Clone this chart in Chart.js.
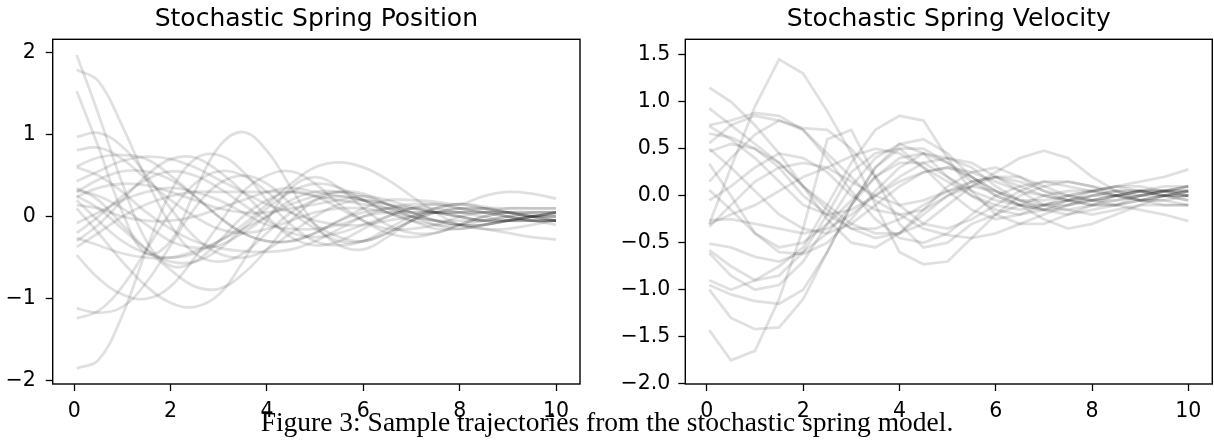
<!DOCTYPE html>
<html>
<head>
<meta charset="utf-8">
<script src="https://cdn.jsdelivr.net/npm/chart.js@4.4.1/dist/chart.umd.min.js"></script>
<style>
  html, body { margin: 0; padding: 0; background: #fff; }
  body { width: 1214px; height: 443px; position: relative; overflow: hidden; }
  .panel { position: absolute; top: 0; height: 420px; }
  #posBox { left: 0; width: 600px; }
  #velBox { left: 620px; width: 594px; }
  .title {
    position: absolute; top: 3px; height: 30px; text-align: center; white-space: nowrap;
    font: 25px/30px 'DejaVu Sans', sans-serif; color: #000;
  }
  #posTitle { left: 52.7px; width: 527.3px; }
  #velTitle { left: 685.3px; width: 527px; }
  .caption {
    position: absolute; left: 0; top: 408px; width: 1214px;
    text-align: center; font: 27.5px/1 'Liberation Serif', 'Times New Roman', serif; color: #000;
  }
</style>
</head>
<body>
<div class="panel" id="posBox"><canvas id="posChart"></canvas></div>
<div class="panel" id="velBox"><canvas id="velChart"></canvas></div>
<div class="title" id="posTitle">Stochastic Spring Position</div>
<div class="title" id="velTitle">Stochastic Spring Velocity</div>
<div class="caption">Figure 3: Sample trajectories from the stochastic spring model.</div>
<script>
// sample times (shared by every trajectory)
const times = [0.05, 0.5, 1, 1.5, 2, 2.5, 3, 3.5, 4, 4.5, 5, 5.5, 6, 6.5, 7, 7.5, 8, 8.5, 9, 9.5, 10];

const xTicks = [0, 2, 4, 6, 8, 10];
const posTicks = [-2, -1, 0, 1, 2];
const velTicks = [-2.0, -1.5, -1.0, -0.5, 0.0, 0.5, 1.0, 1.5];

// position trajectories
const positionPaths = [
    [1.53, 0.85, 0.05, -0.45, -0.3, 0.3, 0.85, 1.03, 0.8, 0.35, -0.1, -0.35, -0.4, -0.25, -0.05, 0.1, 0.15, 0.1, 0.0, -0.05, -0.05],
    [1.97, 1.25, 0.4, -0.3, -0.6, -0.55, -0.3, 0.0, 0.2, 0.3, 0.25, 0.1, -0.05, -0.15, -0.15, -0.1, 0.0, 0.05, 0.05, 0.02, 0.0],
    [1.79, 1.65, 1.1, 0.45, -0.1, -0.45, -0.55, -0.45, -0.2, 0.05, 0.2, 0.25, 0.2, 0.05, -0.05, -0.1, -0.1, -0.05, 0.0, 0.05, 0.05],
    [0.97, 1.02, 0.85, 0.5, 0.1, -0.25, -0.45, -0.5, -0.4, -0.2, 0.0, 0.15, 0.2, 0.15, 0.05, -0.05, -0.1, -0.1, -0.05, 0.0, 0.02],
    [0.81, 0.84, 0.7, 0.45, 0.2, 0.0, -0.15, -0.2, -0.15, -0.05, 0.05, 0.1, 0.1, 0.05, 0.0, -0.05, -0.05, -0.05, 0.0, 0.0, 0.0],
    [0.61, 0.72, 0.75, 0.7, 0.5, 0.25, 0.0, -0.2, -0.3, -0.3, -0.2, -0.05, 0.05, 0.1, 0.1, 0.05, 0.0, -0.05, -0.05, -0.05, -0.05],
    [0.43, 0.55, 0.68, 0.73, 0.7, 0.6, 0.45, 0.3, 0.15, 0.05, -0.05, -0.1, -0.1, -0.05, 0.0, 0.05, 0.05, 0.05, 0.05, 0.0, 0.0],
    [0.32, 0.25, 0.1, -0.1, -0.3, -0.38, -0.35, -0.2, 0.0, 0.2, 0.3, 0.3, 0.2, 0.1, 0.0, -0.05, -0.1, -0.1, -0.05, 0.0, 0.05],
    [0.24, 0.35, 0.4, 0.38, 0.3, 0.2, 0.1, 0.05, 0.05, 0.1, 0.15, 0.2, 0.25, 0.2, 0.12, 0.05, 0.0, -0.05, -0.05, 0.0, 0.05],
    [0.25, 0.1, -0.15, -0.4, -0.55, -0.55, -0.4, -0.15, 0.1, 0.3, 0.4, 0.35, 0.2, 0.05, -0.05, -0.15, -0.15, -0.1, -0.05, 0.0, 0.05],
    [0.14, 0.1, 0.0, -0.05, -0.05, 0.0, 0.1, 0.2, 0.3, 0.35, 0.3, 0.25, 0.2, 0.15, 0.1, 0.05, 0.05, 0.05, 0.1, 0.1, 0.1],
    [-0.08, 0.05, 0.2, 0.3, 0.35, 0.3, 0.2, 0.05, -0.1, -0.15, -0.15, -0.1, 0.0, 0.05, 0.05, 0.05, 0.0, -0.05, -0.05, -0.05, -0.05],
    [-0.2, 0.0, 0.25, 0.45, 0.55, 0.5, 0.35, 0.15, -0.05, -0.2, -0.25, -0.2, -0.1, 0.0, 0.1, 0.15, 0.1, 0.05, 0.0, -0.05, -0.05],
    [-0.3, -0.1, 0.2, 0.5, 0.7, 0.72, 0.55, 0.3, 0.0, -0.25, -0.35, -0.3, -0.15, 0.0, 0.1, 0.1, 0.05, 0.0, -0.05, -0.05, -0.05],
    [-0.37, -0.2, 0.0, 0.15, 0.25, 0.3, 0.3, 0.3, 0.3, 0.3, 0.25, 0.2, 0.15, 0.1, 0.05, 0.05, 0.05, 0.1, 0.1, 0.1, 0.1],
    [-0.47, -0.75, -0.95, -1.0, -0.85, -0.5, -0.1, 0.3, 0.5, 0.55, 0.4, 0.15, -0.05, -0.2, -0.25, -0.2, -0.1, 0.0, 0.05, 0.05, 0.05],
    [0.1, -0.2, -0.55, -0.85, -1.05, -1.1, -0.95, -0.55, -0.05, 0.35, 0.48, 0.35, 0.1, -0.1, -0.2, -0.2, -0.1, 0.0, 0.05, 0.05, 0.05],
    [0.35, 0.2, -0.1, -0.4, -0.65, -0.85, -0.88, -0.7, -0.4, -0.05, 0.2, 0.3, 0.28, 0.15, 0.0, -0.1, -0.15, -0.1, -0.05, 0.0, 0.05],
    [-1.12, -1.17, -1.1, -0.8, -0.35, 0.1, 0.4, 0.5, 0.4, 0.15, -0.1, -0.25, -0.3, -0.2, -0.05, 0.05, 0.1, 0.1, 0.05, 0.0, -0.05],
    [-1.24, -1.15, -0.85, -0.4, 0.05, 0.4, 0.55, 0.5, 0.3, 0.05, -0.15, -0.3, -0.3, -0.2, -0.05, 0.05, 0.1, 0.1, 0.05, 0.0, -0.05],
    [-1.85, -1.75, -1.2, -0.4, 0.3, 0.7, 0.75, 0.55, 0.2, -0.1, -0.3, -0.35, -0.3, -0.15, 0.0, 0.1, 0.15, 0.12, 0.05, 0.0, -0.05],
    [0.2, -0.05, -0.3, -0.45, -0.5, -0.45, -0.3, -0.1, 0.15, 0.4, 0.6, 0.66, 0.6, 0.45, 0.25, 0.05, -0.1, -0.15, -0.15, -0.1, -0.05],
    [0.6, 0.5, 0.3, 0.05, -0.15, -0.3, -0.38, -0.42, -0.43, -0.4, -0.3, -0.15, 0.0, 0.1, 0.15, 0.15, 0.1, 0.05, 0.0, -0.05, -0.1],
    [-0.26, -0.35, -0.45, -0.5, -0.5, -0.42, -0.3, -0.15, 0.0, 0.15, 0.25, 0.3, 0.25, 0.15, 0.05, -0.05, -0.1, -0.15, -0.2, -0.25, -0.28],
    [0.3, 0.45, 0.55, 0.55, 0.45, 0.25, 0.0, -0.2, -0.3, -0.3, -0.2, -0.05, 0.1, 0.2, 0.2, 0.18, 0.15, 0.25, 0.3, 0.28, 0.22]
];

// velocity trajectories
const velocityPaths = [
    [-0.3, 0.3, 0.95, 1.45, 1.3, 0.9, 0.45, -0.1, -0.6, -0.73, -0.7, -0.45, -0.2, 0.0, 0.1, 0.15, 0.1, 0.0, -0.05, -0.05, -0.1],
    [-1.43, -1.75, -1.65, -1.1, -0.35, 0.6, 0.7, 0.2, -0.3, -0.55, -0.5, -0.3, -0.2, -0.1, 0.0, 0.05, 0.05, 0.0, -0.05, 0.0, 0.05],
    [-1.0, -1.3, -1.42, -1.4, -1.1, -0.6, -0.1, 0.3, 0.5, 0.5, 0.35, 0.15, 0.0, -0.1, -0.15, -0.1, -0.05, 0.0, 0.0, 0.05, 0.05],
    [1.15, 1.0, 0.75, 0.45, 0.1, -0.25, -0.5, -0.55, -0.4, -0.15, 0.1, 0.25, 0.3, 0.2, 0.05, -0.05, -0.1, -0.1, -0.05, 0.0, 0.05],
    [0.93, 0.75, 0.55, 0.35, 0.1, -0.1, -0.3, -0.4, -0.4, -0.3, -0.1, 0.1, 0.2, 0.2, 0.1, 0.0, -0.05, -0.1, -0.05, 0.0, 0.0],
    [0.75, 0.8, 0.88, 0.85, 0.7, 0.4, 0.05, -0.25, -0.45, -0.5, -0.4, -0.2, 0.0, 0.1, 0.15, 0.1, 0.05, 0.0, -0.05, -0.05, 0.0],
    [0.56, 0.75, 0.85, 0.8, 0.72, 0.7, 0.5, 0.2, -0.1, -0.3, -0.35, -0.25, -0.1, 0.05, 0.15, 0.15, 0.1, 0.05, 0.0, 0.0, 0.0],
    [0.66, 0.62, 0.5, 0.3, 0.0, -0.2, -0.35, -0.35, -0.25, -0.1, 0.05, 0.15, 0.2, 0.15, 0.05, 0.0, -0.05, -0.05, 0.0, 0.05, 0.1],
    [0.34, 0.0, -0.4, -0.55, -0.5, -0.3, -0.05, 0.2, 0.35, 0.35, 0.2, 0.05, -0.05, -0.1, -0.1, -0.05, 0.0, 0.05, 0.05, 0.0, 0.0],
    [0.06, -0.15, -0.4, -0.6, -0.62, -0.5, -0.25, 0.05, 0.3, 0.45, 0.4, 0.3, 0.1, -0.05, -0.15, -0.2, -0.15, -0.1, 0.0, 0.05, 0.1],
    [-0.26, -0.25, -0.3, -0.35, -0.4, -0.35, -0.2, 0.0, 0.2, 0.35, 0.4, 0.35, 0.2, 0.05, -0.1, -0.15, -0.2, -0.15, -0.1, 0.0, 0.05],
    [-0.51, -0.55, -0.65, -0.7, -0.6, -0.4, -0.1, 0.2, 0.4, 0.45, 0.35, 0.2, 0.05, -0.05, -0.1, -0.1, -0.05, 0.0, 0.05, 0.05, 0.1],
    [-0.58, -0.75, -0.9, -0.85, -0.6, -0.2, 0.25, 0.45, 0.5, 0.3, 0.05, -0.15, -0.25, -0.2, -0.1, 0.0, 0.05, 0.1, 0.05, 0.0, -0.05],
    [-0.61, -0.85, -1.0, -0.95, -0.7, -0.3, 0.1, 0.4, 0.55, 0.45, 0.2, 0.0, -0.15, -0.2, -0.15, -0.05, 0.05, 0.1, 0.1, 0.05, 0.0],
    [-0.95, -1.05, -1.12, -1.15, -1.0, -0.6, -0.1, 0.3, 0.55, 0.6, 0.45, 0.2, 0.0, -0.1, -0.15, -0.15, -0.1, -0.05, 0.0, 0.05, 0.05],
    [-0.9, -1.0, -0.9, -0.75, -0.55, -0.1, 0.35, 0.7, 0.85, 0.8, 0.4, 0.05, -0.2, -0.3, -0.3, -0.2, -0.1, 0.0, 0.05, 0.05, 0.05],
    [0.47, 0.55, 0.5, 0.35, 0.1, -0.15, -0.35, -0.45, -0.4, -0.2, 0.0, 0.1, 0.25, 0.4, 0.48, 0.4, 0.2, 0.05, -0.05, -0.1, -0.1],
    [0.15, 0.4, 0.65, 0.8, 0.7, 0.45, 0.2, -0.05, -0.2, -0.35, -0.42, -0.45, -0.4, -0.3, -0.2, -0.1, 0.0, 0.05, 0.05, 0.0, -0.05],
    [-0.33, -0.1, 0.15, 0.3, 0.35, 0.3, 0.15, 0.0, -0.1, -0.05, 0.05, 0.1, 0.05, -0.1, -0.25, -0.35, -0.3, -0.2, -0.1, -0.1, -0.1],
    [-0.05, 0.1, 0.3, 0.45, 0.4, 0.25, 0.0, -0.15, -0.2, -0.15, 0.0, 0.15, 0.2, 0.1, 0.0, -0.05, -0.1, -0.1, -0.15, -0.2, -0.27],
    [0.5, 0.3, 0.05, -0.2, -0.35, -0.4, -0.3, -0.1, 0.1, 0.25, 0.3, 0.2, 0.05, -0.05, -0.05, 0.0, 0.05, 0.1, 0.15, 0.2, 0.28],
    [-0.3, -0.2, -0.1, 0.05, 0.2, 0.3, 0.42, 0.5, 0.45, 0.3, 0.15, 0.0, -0.1, -0.15, -0.1, -0.05, 0.0, 0.0, 0.05, 0.05, 0.0],
    [0.74, 0.6, 0.4, 0.15, -0.1, -0.2, -0.15, 0.0, 0.15, 0.25, 0.3, 0.25, 0.15, 0.05, 0.0, -0.05, -0.05, 0.0, 0.05, 0.1, 0.1]
];

const lineColor = 'rgba(0, 0, 0, 0.12)';
const fontFamily = "'DejaVu Sans', sans-serif";

// matplotlib style box around the plot area
const framePlugin = {
    id: 'frame',
    afterDraw(chart) {
        const { ctx, chartArea: a } = chart;
        ctx.save();
        ctx.strokeStyle = '#000';
        ctx.lineWidth = 1.4;
        ctx.strokeRect(a.left, a.top, a.right - a.left, a.bottom - a.top);
        ctx.restore();
    }
};

function fmt(v, digits) {
    const s = Math.abs(v).toFixed(digits);
    return v < -1e-9 ? '\u2212' + s : s;
}

function makeChart(id, paths, tension, yMin, yMax, yTickList, digits, yWidth, yPad, padRight) {
    const ctx = document.getElementById(id).getContext('2d');
    return new Chart(ctx, {
        type: 'line',
        data: {
            datasets: paths.map(p => ({
                data: p.map((v, i) => ({ x: times[i], y: v })),
                borderColor: lineColor,
                borderWidth: 2.8,
                pointRadius: 0,
                tension: tension,
                fill: false
            }))
        },
        options: {
            responsive: true,
            maintainAspectRatio: false,
            animation: false,
            events: [],
            layout: { padding: { top: 39.3, right: padRight, bottom: 0, left: 0 } },
            plugins: {
                legend: { display: false },
                tooltip: { enabled: false },
                title: { display: false }
            },
            scales: {
                x: {
                    type: 'linear',
                    min: -0.4475,
                    max: 10.4975,
                    afterBuildTicks: s => { s.ticks = xTicks.map(v => ({ value: v })); },
                    afterFit: s => { s.height = 36; },
                    border: { display: false },
                    grid: { drawOnChartArea: false, drawTicks: true, tickLength: 7, tickWidth: 1.3, tickColor: '#000' },
                    ticks: { color: '#000', padding: 8, maxRotation: 0, font: { family: fontFamily, size: 20.5 }, callback: v => fmt(v, 0) }
                },
                y: {
                    min: yMin,
                    max: yMax,
                    afterBuildTicks: s => { s.ticks = yTickList.map(v => ({ value: v })); },
                    afterFit: s => { s.width = yWidth; },
                    border: { display: false },
                    grid: { drawOnChartArea: false, drawTicks: true, tickLength: 7, tickWidth: 1.3, tickColor: '#000' },
                    ticks: { color: '#000', padding: yPad, font: { family: fontFamily, size: 20.5 }, callback: v => fmt(v, digits) }
                }
            }
        },
        plugins: [framePlugin]
    });
}

makeChart('posChart', positionPaths, 0.4, -2.04, 2.16, posTicks, 0, 52.7, 10, 20);
makeChart('velChart', velocityPaths, 0, -2.003, 1.664, velTicks, 1, 65.3, 8, 1.7);
</script>
</body>
</html>
